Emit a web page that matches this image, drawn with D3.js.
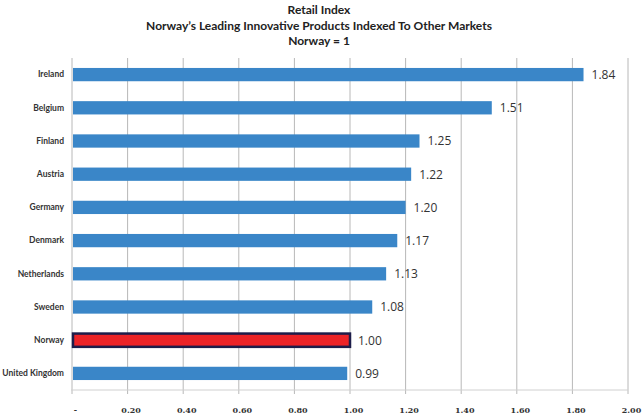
<!DOCTYPE html>
<html><head><meta charset="utf-8">
<script src="https://cdn.jsdelivr.net/npm/d3@7"></script>
<style>body{margin:0;background:#fff}svg{display:block}</style>
</head><body>
<script>
const categories = ["Ireland","Belgium","Finland","Austria","Germany","Denmark","Netherlands","Sweden","Norway","United Kingdom"];
const values = [1.84,1.51,1.25,1.22,1.20,1.17,1.13,1.08,1.00,0.99];
const tickValues = [0,0.2,0.4,0.6,0.8,1.0,1.2,1.4,1.6,1.8,2.0];
const tickLabels = ["-","0.20","0.40","0.60","0.80","1.00","1.20","1.40","1.60","1.80","2.00"];
const titleLines = ["Retail Index","Norway\u2019s Leading Innovative Products Indexed To Other Markets","Norway = 1"];
const highlight = "Norway";

const W=642,H=416;
const svg=d3.select("body").append("svg").attr("width",W).attr("height",H);
const m={l:72,r:14,t:58,b:26};
const x=d3.scaleLinear().domain([0,2]).range([m.l,W-m.r]);
const y=d3.scaleBand().domain(categories).range([m.t,H-m.b]).paddingInner(0.6).paddingOuter(0.3);

svg.selectAll("text.title").data(titleLines).enter().append("text")
 .attr("x",319).attr("y",(d,i)=>14+i*15.5).attr("text-anchor","middle")
 .style("font-family","Lato,sans-serif").style("font-weight","bold").style("font-size","12px").attr("fill","#222").text(d=>d);

// grid
svg.append("g").selectAll("line").data(tickValues).enter().append("line")
 .attr("x1",d=>x(d)).attr("x2",d=>x(d)).attr("y1",m.t).attr("y2",H-m.b+4)
 .attr("stroke","#b8b8b8").attr("stroke-width",1);
svg.append("line").attr("x1",m.l-1).attr("x2",x(2)).attr("y1",H-m.b).attr("y2",H-m.b).attr("stroke","#d0d0d0");

// x tick labels
const xa=d3.axisBottom(x).tickValues(tickValues).tickFormat((d,i)=>tickLabels[i]).tickSize(0).tickPadding(0);
const gx=svg.append("g").attr("transform",`translate(3,${H-m.b+17})`).call(xa);
gx.select(".domain").remove();
gx.selectAll("text").style("font-family","'DejaVu Serif',serif").style("font-weight","bold").style("font-size","8px").attr("fill","#333");

// bars
svg.append("g").selectAll("rect").data(categories).enter().append("rect")
 .attr("x",x(0)+1).attr("y",d=>y(d)).attr("height",y.bandwidth())
 .attr("width",(d,i)=>x(values[i])-x(0)-1)
 .attr("fill",d=>d===highlight?"#ec2327":"#3a86c8")
 .attr("stroke",d=>d===highlight?"#1d1d4a":"none").attr("stroke-width",2.5);

// value labels
svg.append("g").selectAll("text").data(categories).enter().append("text")
 .attr("x",(d,i)=>x(values[i])+8).attr("y",d=>y(d)+y.bandwidth()/2).attr("dy","0.36em")
 .style("font-family","'Open Sans',sans-serif").style("font-size","12px").attr("fill","#333")
 .text((d,i)=>values[i].toFixed(2));

// category labels
const ya=d3.axisLeft(y).tickSize(0).tickPadding(8);
const gy=svg.append("g").attr("transform",`translate(${m.l},0)`).call(ya);
gy.select(".domain").remove();
gy.selectAll("text").style("font-family","Lato,sans-serif").style("font-weight","bold").style("font-size","8.5px").attr("fill","#333");
</script>
</body></html>
